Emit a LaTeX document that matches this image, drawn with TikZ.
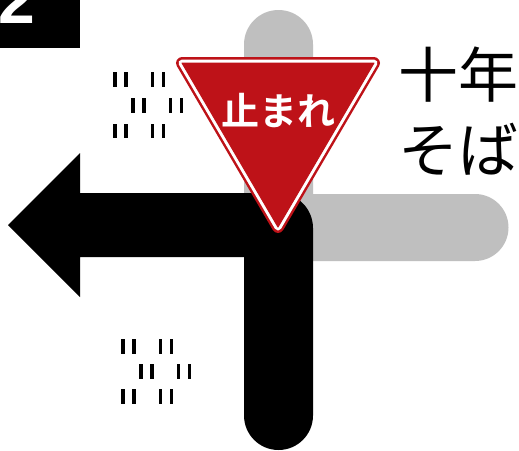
\documentclass[tikz,border=0pt]{standalone}
\usepackage{fontspec}
\newfontfamily\jpreg{Noto Sans CJK JP}
\newfontfamily\jpbold{Noto Sans CJK JP}[BoldFont={Noto Sans CJK JP Bold}]
\setmainfont{Liberation Sans}
\definecolor{signred}{RGB}{190,18,24}
\definecolor{roadgray}{RGB}{191,191,191}
\tikzset{
  road/.style={fill=roadgray,draw=none},
  route/.style={fill=black,draw=none},
  tick/.style={fill=black,draw=none},
  signshape/.style={line join=round},
  bigtext/.style={inner sep=0pt,font=\jpreg\fontsize{60}{60}\selectfont,text=black},
  signtext/.style={inner sep=0pt,font=\jpbold\bfseries\fontsize{38}{38}\selectfont,text=white}
}
\newcommand{\tickrow}[2]{%
  \foreach \tx in {0,11.3,37.5,48.5}{
    \fill[tick] ({#1+\tx},#2) rectangle ({#1+\tx+3.6},{#2+14.5});
  }}
\begin{document}
\begin{tikzpicture}[x=1pt,y=-1pt]
\useasboundingbox (0,0) rectangle (519,450);
\fill[white] (0,0) rectangle (519,450);
% badge
\begin{scope}
\clip (0,0) rectangle (80,48);
\fill[black] (0,0) rectangle (80,48);
\node[anchor=base,inner sep=0pt,text=white,font=\bfseries\fontsize{66}{66}\selectfont] (badge) at (16.5,23) {2};
\end{scope}
% gray roads
\fill[road] (244,261) -- (244,44.5) arc[start angle=180,end angle=360,radius=34.5] -- (313,194) -- (475,194) arc[start angle=-90,end angle=90,radius=33.5] -- cycle;
% black route
\fill[route] (8,225) -- (80,153) -- (80,193) -- (278,193) arc[start angle=-90,end angle=0,radius=35] -- (313,415.5) arc[start angle=0,end angle=180,radius=34.5] -- (244,257) -- (80,257) -- (80,297) -- cycle;
% ticks
\tickrow{113}{72}\tickrow{131}{98}\tickrow{113}{123.5}
\tickrow{121}{339}\tickrow{139}{364}\tickrow{121}{389}
% sign
\path[signshape,draw=signred,fill=signred,line width=12pt] (182,63) -- (374,63) -- (278,227) -- cycle;
\path[signshape,draw=white,fill=white,line width=7pt] (182,63) -- (374,63) -- (278,227) -- cycle;
\path[signshape,draw=signred,fill=signred,line width=1pt] (182,63) -- (374,63) -- (278,227) -- cycle;
\node[signtext] (stop) at (278.5,110.5) {止まれ};
% text
\node[bigtext] (l1) at (458.5,75) {十年};
\node[bigtext] (l2) at (458.5,149) {そば};
\end{tikzpicture}
\end{document}
